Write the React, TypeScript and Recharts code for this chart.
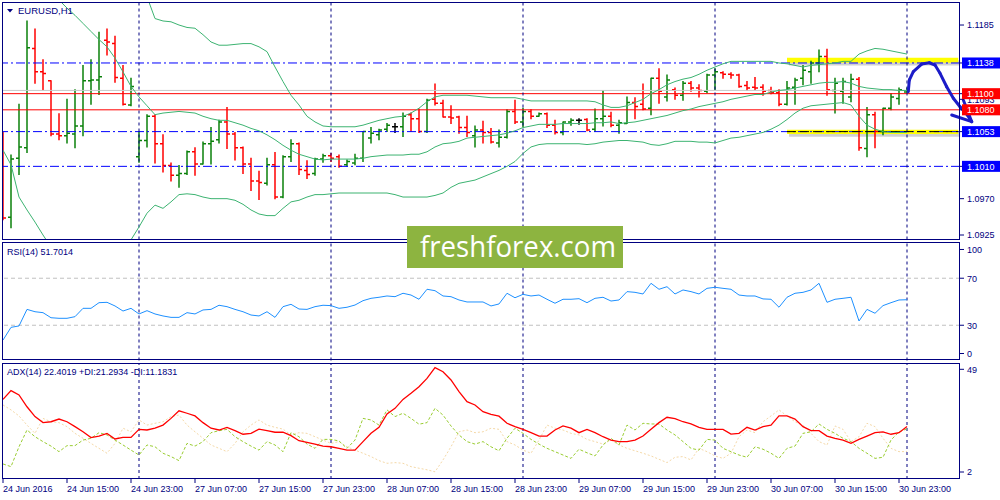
import React from 'react';
import { ComposedChart, Bar, Line, XAxis, YAxis, ReferenceLine, ReferenceArea } from 'recharts';

// EURUSD H1, 24 Jun 2016 07:00 .. 1 Jul 2016 00:00 (one entry per hourly bar)
const OPEN = [
  1.1051, 1.0947, 1.1020, 1.1033, 1.1156, 1.1127, 1.1116, 1.1050, 1.1048, 1.1050,
  1.1060, 1.1116, 1.1117, 1.1166, 1.1162, 1.1119, 1.1086, 1.1022, 1.1042, 1.1072,
  1.1038, 1.1011, 1.0999, 1.1001, 1.1028, 1.1013, 1.1038, 1.1043, 1.1065, 1.1050,
  1.1033, 1.1013, 1.0992, 1.0989, 1.1012, 1.0972, 1.1022, 1.1038, 1.1005, 1.1001,
  1.1019, 1.1023, 1.1022, 1.1012, 1.1014, 1.1020, 1.1045, 1.1049, 1.1056, 1.1059,
  1.1059, 1.1074, 1.1069, 1.1053, 1.1093, 1.1088, 1.1071, 1.1071, 1.1058, 1.1048,
  1.1055, 1.1052, 1.1039, 1.1046, 1.1078, 1.1065, 1.1078, 1.1072, 1.1075, 1.1061,
  1.1052, 1.1065, 1.1067, 1.1068, 1.1056, 1.1069, 1.1072, 1.1061, 1.1063, 1.1089,
  1.1087, 1.1082, 1.1119, 1.1096, 1.1105, 1.1098, 1.1113, 1.1107, 1.1103, 1.1123,
  1.1126, 1.1124, 1.1123, 1.1110, 1.1108, 1.1108, 1.1104, 1.1101, 1.1087, 1.1108,
  1.1119, 1.1127, 1.1138, 1.1146, 1.1104, 1.1103, 1.1096, 1.1118, 1.1032, 1.1074,
  1.1053, 1.1082, 1.1094, 1.1102,
];
const HIGH = [
  1.1052, 1.1024, 1.1087, 1.1190, 1.1180, 1.1142, 1.1116, 1.1075, 1.1093, 1.1105,
  1.1135, 1.1142, 1.1176, 1.1180, 1.1171, 1.1135, 1.1119, 1.1053, 1.1074, 1.1074,
  1.1049, 1.1014, 1.1011, 1.1029, 1.1033, 1.1040, 1.1058, 1.1067, 1.1083, 1.1052,
  1.1034, 1.1020, 1.1004, 1.1020, 1.1027, 1.1023, 1.1043, 1.1039, 1.1017, 1.1020,
  1.1025, 1.1026, 1.1024, 1.1018, 1.1025, 1.1053, 1.1058, 1.1056, 1.1063, 1.1063,
  1.1076, 1.1076, 1.1081, 1.1093, 1.1112, 1.1092, 1.1085, 1.1072, 1.1072, 1.1060,
  1.1066, 1.1057, 1.1055, 1.1080, 1.1092, 1.1082, 1.1080, 1.1076, 1.1076, 1.1067,
  1.1065, 1.1069, 1.1069, 1.1069, 1.1081, 1.1104, 1.1077, 1.1067, 1.1096, 1.1095,
  1.1112, 1.1119, 1.1131, 1.1123, 1.1107, 1.1115, 1.1115, 1.1111, 1.1124, 1.1131,
  1.1127, 1.1126, 1.1124, 1.1115, 1.1120, 1.1111, 1.1108, 1.1105, 1.1115, 1.1119,
  1.1135, 1.1140, 1.1154, 1.1155, 1.1119, 1.1119, 1.1124, 1.1120, 1.1083, 1.1077,
  1.1082, 1.1100, 1.1107, 1.1107,
];
const LOW = [
  1.0944, 1.0934, 1.1000, 1.1027, 1.1113, 1.1105, 1.1048, 1.1043, 1.1039, 1.1033,
  1.1048, 1.1087, 1.1099, 1.1148, 1.1114, 1.1086, 1.1085, 1.1015, 1.1034, 1.1014,
  1.1003, 1.0992, 1.0984, 1.1000, 1.0999, 1.1013, 1.1013, 1.1039, 1.1032, 1.1018,
  1.1001, 1.0980, 1.0969, 1.0987, 1.0970, 1.0971, 1.1016, 1.1000, 1.0995, 1.0999,
  1.1015, 1.1016, 1.1009, 1.1010, 1.1012, 1.1016, 1.1039, 1.1043, 1.1053, 1.1052,
  1.1047, 1.1053, 1.1052, 1.1052, 1.1086, 1.1071, 1.1063, 1.1051, 1.1047, 1.1034,
  1.1039, 1.1039, 1.1034, 1.1045, 1.1063, 1.1059, 1.1069, 1.1072, 1.1058, 1.1050,
  1.1049, 1.1061, 1.1062, 1.1054, 1.1053, 1.1060, 1.1059, 1.1051, 1.1063, 1.1069,
  1.1080, 1.1074, 1.1088, 1.1091, 1.1093, 1.1092, 1.1103, 1.1096, 1.1101, 1.1105,
  1.1119, 1.1119, 1.1108, 1.1104, 1.1105, 1.1098, 1.1100, 1.1085, 1.1086, 1.1087,
  1.1111, 1.1113, 1.1127, 1.1098, 1.1076, 1.1088, 1.1090, 1.1030, 1.1022, 1.1033,
  1.1049, 1.1080, 1.1087, 1.1102,
];
const CLOSE = [
  1.0946, 1.1019, 1.1034, 1.1157, 1.1127, 1.1125, 1.1050, 1.1048, 1.1051, 1.1060,
  1.1116, 1.1117, 1.1121, 1.1164, 1.1120, 1.1087, 1.1109, 1.1042, 1.1072, 1.1038,
  1.1011, 1.0999, 1.1001, 1.1028, 1.1013, 1.1038, 1.1041, 1.1065, 1.1050, 1.1033,
  1.1013, 1.0992, 1.0990, 1.1012, 1.0972, 1.1022, 1.1038, 1.1006, 1.1000, 1.1019,
  1.1023, 1.1020, 1.1010, 1.1016, 1.1020, 1.1053, 1.1051, 1.1055, 1.1061, 1.1059,
  1.1072, 1.1069, 1.1053, 1.1092, 1.1088, 1.1071, 1.1070, 1.1058, 1.1052, 1.1055,
  1.1052, 1.1040, 1.1046, 1.1078, 1.1065, 1.1078, 1.1072, 1.1075, 1.1061, 1.1052,
  1.1065, 1.1067, 1.1067, 1.1055, 1.1069, 1.1072, 1.1061, 1.1064, 1.1089, 1.1084,
  1.1081, 1.1119, 1.1103, 1.1117, 1.1098, 1.1113, 1.1107, 1.1104, 1.1123, 1.1127,
  1.1124, 1.1123, 1.1109, 1.1107, 1.1107, 1.1103, 1.1101, 1.1087, 1.1107, 1.1117,
  1.1129, 1.1138, 1.1146, 1.1105, 1.1113, 1.1115, 1.1118, 1.1033, 1.1074, 1.1053,
  1.1082, 1.1096, 1.1105, 1.1104,
];

// Bollinger Bands (20)
const BB_UPPER = [
  null, null, null, null, null, null, null, null, null, null,
  null, null, null, null, null, null, null, null, 1.1220, 1.1193,
  1.1190, 1.1189, 1.1185, 1.1182, 1.1181, 1.1173, 1.1164, 1.1160, 1.1160, 1.1161,
  1.1162, 1.1162, 1.1158, 1.1152, 1.1133, 1.1115, 1.1098, 1.1086, 1.1072, 1.1065,
  1.1060, 1.1059, 1.1059, 1.1059, 1.1059, 1.1061, 1.1064, 1.1067, 1.1069, 1.1071,
  1.1072, 1.1076, 1.1082, 1.1090, 1.1096, 1.1098, 1.1098, 1.1098, 1.1098, 1.1097,
  1.1096, 1.1095, 1.1095, 1.1095, 1.1095, 1.1093, 1.1091, 1.1091, 1.1091, 1.1091,
  1.1091, 1.1091, 1.1091, 1.1091, 1.1090, 1.1086, 1.1083, 1.1083, 1.1085, 1.1089,
  1.1093, 1.1100, 1.1105, 1.1111, 1.1115, 1.1118, 1.1120, 1.1124, 1.1129, 1.1133,
  1.1137, 1.1140, 1.1140, 1.1140, 1.1140, 1.1140, 1.1140, 1.1138, 1.1137, 1.1135,
  1.1133, 1.1135, 1.1136, 1.1137, 1.1138, 1.1140, 1.1140, 1.1149, 1.1153, 1.1156,
  1.1155, 1.1153, 1.1151, 1.1149,
];
const BB_MIDDLE = [
  1.1286, 1.1276, 1.1265, 1.1255, 1.1245, 1.1235, 1.1225, 1.1216, 1.1206, 1.1197,
  1.1187, 1.1177, 1.1167, 1.1158, 1.1144, 1.1127, 1.1109, 1.1096, 1.1085, 1.1074,
  1.1076, 1.1077, 1.1078, 1.1077, 1.1076, 1.1072, 1.1069, 1.1067, 1.1067, 1.1064,
  1.1061, 1.1057, 1.1054, 1.1049, 1.1043, 1.1036, 1.1030, 1.1025, 1.1022, 1.1019,
  1.1018, 1.1019, 1.1019, 1.1019, 1.1019, 1.1020, 1.1022, 1.1023, 1.1024, 1.1024,
  1.1024, 1.1025, 1.1025, 1.1028, 1.1034, 1.1038, 1.1039, 1.1041, 1.1045, 1.1046,
  1.1047, 1.1048, 1.1049, 1.1051, 1.1054, 1.1058, 1.1060, 1.1062, 1.1062, 1.1062,
  1.1063, 1.1063, 1.1063, 1.1063, 1.1064, 1.1064, 1.1065, 1.1063, 1.1064, 1.1065,
  1.1067, 1.1069, 1.1071, 1.1073, 1.1076, 1.1079, 1.1081, 1.1084, 1.1086, 1.1088,
  1.1090, 1.1093, 1.1095, 1.1097, 1.1099, 1.1099, 1.1102, 1.1104, 1.1105, 1.1107,
  1.1109, 1.1111, 1.1113, 1.1114, 1.1114, 1.1115, 1.1113, 1.1109, 1.1107, 1.1106,
  1.1105, 1.1105, 1.1104, 1.1104,
];
const BB_LOWER = [
  1.1030, 1.1012, 1.0972, 1.0956, 1.0941, 1.0925, 1.0910, 1.0898, 1.0886, 1.0878,
  1.0871, 1.0869, 1.0873, 1.0882, 1.0890, 1.0904, 1.0919, 1.0935, 1.0952, 1.0962,
  1.0958, 1.0966, 1.0975, 1.0976, 1.0975, 1.0972, 1.0970, 1.0970, 1.0970, 1.0968,
  1.0963, 1.0956, 1.0951, 1.0949, 1.0949, 1.0958, 1.0966, 1.0968, 1.0972, 1.0975,
  1.0975, 1.0976, 1.0977, 1.0977, 1.0977, 1.0977, 1.0977, 1.0977, 1.0977, 1.0975,
  1.0972, 1.0972, 1.0972, 1.0972, 1.0974, 1.0977, 1.0984, 1.0989, 1.0991, 1.0993,
  1.0997, 1.1001, 1.1005, 1.1010, 1.1016, 1.1026, 1.1034, 1.1037, 1.1038, 1.1038,
  1.1038, 1.1038, 1.1038, 1.1037, 1.1038, 1.1040, 1.1041, 1.1042, 1.1042, 1.1041,
  1.1040, 1.1037, 1.1036, 1.1038, 1.1041, 1.1041, 1.1041, 1.1040, 1.1040, 1.1039,
  1.1042, 1.1045, 1.1046, 1.1048, 1.1050, 1.1052, 1.1056, 1.1061, 1.1068, 1.1076,
  1.1082, 1.1085, 1.1086, 1.1087, 1.1088, 1.1089, 1.1086, 1.1072, 1.1061, 1.1056,
  1.1053, 1.1052, 1.1052, 1.1052,
];

// RSI(14)
const RSI = [
  17.4, 28.2, 29.4, 43.5, 41.5, 40.7, 36.4, 35.9, 35.9, 37.3,
  44.4, 44.4, 49.2, 49.5, 46.4, 42.1, 44.4, 39.6, 42.4, 39.6,
  37.9, 36.7, 36.7, 40.7, 39.6, 43.0, 43.5, 47.0, 45.8, 43.5,
  41.5, 38.7, 37.9, 41.5, 36.7, 45.8, 47.8, 43.8, 43.5, 45.8,
  47.0, 46.7, 44.4, 45.3, 47.2, 50.9, 52.9, 53.8, 54.9, 54.3,
  57.2, 55.7, 52.1, 60.6, 59.4, 54.9, 54.3, 51.5, 49.8, 49.8,
  49.8, 46.4, 48.1, 57.2, 53.4, 56.3, 54.9, 55.7, 52.1, 48.7,
  52.1, 52.1, 52.6, 49.2, 52.9, 53.8, 50.6, 51.5, 58.6, 58.0,
  56.6, 65.7, 60.6, 62.8, 56.6, 60.0, 58.6, 56.6, 61.4, 62.3,
  61.4, 60.6, 55.7, 54.9, 54.9, 52.4, 52.1, 45.3, 53.8, 57.2,
  58.0, 60.0, 65.7, 49.5, 52.1, 52.9, 53.8, 33.6, 43.5, 40.2,
  46.7, 49.2, 51.5, 51.7,
];

// ADX(14) with +DI / -DI
const ADX = [
  34.5, 38.4, 36.5, 31.2, 26.8, 24.1, 24.5, 25.7, 24.5, 22.3,
  20.0, 17.4, 18.1, 19.3, 16.8, 17.5, 17.5, 21.1, 20.8, 21.6,
  23.0, 26.0, 29.4, 28.3, 27.1, 24.1, 21.6, 20.8, 22.0, 20.5,
  18.9, 19.3, 21.2, 20.5, 19.8, 19.8, 18.3, 16.0, 15.3, 14.5,
  13.6, 13.3, 12.6, 11.8, 11.8, 15.6, 19.3, 22.0, 28.0, 30.5,
  34.5, 37.2, 40.2, 43.9, 48.7, 46.9, 43.2, 38.0, 33.5, 32.0,
  29.0, 27.8, 27.0, 23.8, 22.3, 21.1, 19.6, 18.1, 18.1, 20.8,
  22.6, 21.6, 19.6, 21.1, 19.6, 17.8, 16.3, 15.6, 15.6, 16.3,
  18.1, 21.1, 24.1, 26.5, 25.9, 24.5, 23.5, 22.0, 21.1, 21.1,
  21.1, 19.0, 19.3, 22.0, 20.8, 22.3, 23.0, 27.1, 27.1, 25.7,
  22.3, 20.5, 20.5, 18.1, 17.1, 16.3, 14.8, 16.6, 18.1, 19.6,
  20.0, 18.9, 19.6, 22.4,
];
const PLUS_DI = [
  5.6, 4.4, 13.3, 20.8, 17.8, 15.6, 13.6, 11.1, 13.8, 13.8,
  16.3, 17.1, 19.6, 18.6, 16.3, 14.1, 11.8, 9.6, 14.1, 13.3,
  10.4, 8.9, 7.1, 14.8, 13.6, 15.6, 19.6, 20.5, 21.1, 17.8,
  15.6, 13.6, 11.8, 15.6, 14.1, 11.1, 19.6, 17.8, 14.5, 12.6,
  16.6, 16.6, 15.9, 12.6, 16.3, 26.0, 25.3, 23.0, 29.8, 26.8,
  28.3, 26.0, 23.4, 24.1, 30.5, 27.5, 22.6, 18.6, 15.6, 14.5,
  15.6, 13.3, 11.5, 17.1, 21.6, 19.3, 16.6, 14.5, 12.6, 11.1,
  9.6, 8.1, 12.2, 10.6, 9.2, 14.1, 17.1, 14.1, 23.0, 20.8,
  23.8, 23.5, 23.5, 20.8, 18.6, 15.6, 12.6, 11.8, 16.6, 16.3,
  12.6, 11.1, 9.6, 8.6, 13.3, 12.2, 10.4, 8.1, 12.6, 13.6,
  19.3, 20.0, 23.5, 21.1, 19.3, 17.1, 15.6, 12.6, 10.4, 8.1,
  8.6, 16.3, 20.0, 21.3,
];
const MINUS_DI = [
  32.0, 29.8, 27.1, 23.0, 19.3, 26.0, 24.5, 24.1, 22.3, 19.3,
  17.1, 14.8, 12.6, 10.4, 14.8, 21.6, 20.0, 25.3, 23.0, 23.8,
  24.5, 26.8, 27.5, 23.0, 20.0, 17.1, 14.1, 12.6, 11.1, 14.8,
  20.0, 23.0, 25.3, 23.0, 22.0, 21.2, 18.6, 19.6, 19.3, 17.8,
  16.3, 14.8, 15.6, 13.3, 11.8, 10.4, 8.9, 7.1, 5.9, 6.2,
  5.9, 4.4, 3.7, 3.0, 2.1, 7.4, 13.3, 20.0, 20.8, 19.6,
  20.0, 21.6, 21.1, 15.6, 14.1, 11.8, 10.4, 16.3, 23.0, 21.6,
  20.8, 19.3, 18.6, 16.6, 15.6, 14.5, 16.3, 14.1, 12.6, 11.5,
  10.4, 9.2, 7.7, 6.2, 8.6, 8.9, 7.4, 12.6, 11.1, 9.2,
  8.1, 10.4, 17.8, 20.8, 19.6, 24.5, 27.1, 29.8, 27.1, 24.5,
  23.0, 19.3, 15.6, 14.1, 22.6, 21.1, 15.6, 17.8, 23.8, 22.3,
  17.1, 12.6, 11.1, 11.2,
];

const TIME_TICKS = [0, 8, 16, 24, 32, 40, 48, 56, 64, 72, 80, 88, 96, 104, 112];
const TIME_LABELS = [
  '24 Jun 2016', '24 Jun 15:00', '24 Jun 23:00', '27 Jun 07:00', '27 Jun 15:00',
  '27 Jun 23:00', '28 Jun 07:00', '28 Jun 15:00', '28 Jun 23:00', '29 Jun 07:00',
  '29 Jun 15:00', '29 Jun 23:00', '30 Jun 07:00', '30 Jun 15:00', '30 Jun 23:00',
];
const DAY_STARTS = [17, 41, 65, 89, 113];

const PRICE_TICKS = [1.1185, 1.1093, 1.097, 1.0925];
const BLUE_LEVELS = [1.1138, 1.1053, 1.101];
const RED_LEVELS = [1.11, 1.108];
const BID = 1.1104;

// hand-drawn forecast arrow (bar index, price)
const ARROW = [
  [113.16, 1.11024], [113.29, 1.11169], [113.79, 1.11272], [114.84, 1.11367],
  [115.79, 1.11383], [116.5, 1.11355], [117.13, 1.11252], [117.96, 1.11086],
  [118.79, 1.10943], [119.63, 1.10838], [120.54, 1.10736], [121.09, 1.10653],
];
const ARROW_HEAD = [[118.59, 1.10736], [120.04, 1.10921]];

const NAVY = '#000080';
const BULL = '#0A800A';
const BEAR = '#FF0000';
const BAND = '#3CB371';
const FONT = '"Liberation Sans", Arial, sans-serif';
const X_DOMAIN: [number, number] = [-0.125, 119.625];
const PLOT_RIGHT = 960;

const rows = OPEN.map((o, i) => ({
  i,
  open: o,
  high: HIGH[i],
  low: LOW[i],
  close: CLOSE[i],
  range: [LOW[i], HIGH[i]],
  bbUp: BB_UPPER[i],
  bbMid: BB_MIDDLE[i],
  bbLow: BB_LOWER[i],
  rsi: RSI[i],
  adx: ADX[i],
  pdi: PLUS_DI[i],
  mdi: MINUS_DI[i],
}));

const OhlcBar = (props: any) => {
  const { x, y, width, height, payload } = props;
  if (x == null || y == null || !payload) return null;
  const cx = x + (width || 0) / 2;
  const top = Math.min(y, y + height);
  const span = Math.abs(height);
  const { open, high, low, close } = payload;
  const pos = (v: number) => (high === low ? top : top + ((high - v) / (high - low)) * span);
  const color = close > open ? BULL : close < open ? BEAR : '#000000';
  return (
    <g stroke={color} strokeWidth={1.5}>
      <line x1={cx} x2={cx} y1={top - 0.5} y2={top + span + 0.5} />
      <line x1={cx - 3} x2={cx} y1={pos(open)} y2={pos(open)} />
      <line x1={cx} x2={cx + 3} y1={pos(close)} y2={pos(close)} />
    </g>
  );
};

const priceTick = (props: any) => {
  const { y, payload } = props;
  const v = payload.value;
  const box = BLUE_LEVELS.includes(v) ? '#0000FF' : RED_LEVELS.includes(v) ? '#FF0000' : null;
  return (
    <g>
      <line x1={PLOT_RIGHT} x2={PLOT_RIGHT + 4} y1={y} y2={y} stroke={NAVY} />
      {box && <rect x={PLOT_RIGHT + 2} y={y - 5.5} width={38} height={11} fill={box} />}
      <text x={PLOT_RIGHT + 7} y={y + 3.3} fill={box ? '#FFFFFF' : NAVY} fontSize={9} fontFamily={FONT}>
        {v.toFixed(4)}
      </text>
    </g>
  );
};

const levelTick = (shift: Record<string, number>) => (props: any) => {
  const { y, payload } = props;
  const dy = shift[String(payload.value)] || 0;
  return (
    <g>
      <line x1={PLOT_RIGHT} x2={PLOT_RIGHT + 4} y1={y + dy} y2={y + dy} stroke={NAVY} />
      <text x={PLOT_RIGHT + 7} y={y + dy + 3.3} fill={NAVY} fontSize={9} fontFamily={FONT}>
        {payload.value}
      </text>
    </g>
  );
};

const ADX_PLOT_BOTTOM = 119;

const timeTick = (props: any) => {
  const { x, payload } = props;
  const k = TIME_TICKS.indexOf(payload.value);
  return (
    <g>
      <line x1={x} x2={x} y1={ADX_PLOT_BOTTOM} y2={ADX_PLOT_BOTTOM + 4} stroke={NAVY} />
      <text x={x} y={ADX_PLOT_BOTTOM + 13} fill={NAVY} fontSize={9} fontFamily={FONT}>
        {TIME_LABELS[k]}
      </text>
    </g>
  );
};

const daySeparators = DAY_STARTS.map((d) => (
  <ReferenceLine key={`d${d}`} x={d} stroke={NAVY} strokeDasharray="3 3" />
));

const App: React.FC = () => {
  return (
    <div style={{ position: 'absolute', left: 0, top: 0, width: 1000, height: 500, background: '#FFFFFF' }}>
      {/* price window */}
      <div style={{ position: 'absolute', left: 0, top: 0 }}>
        <ComposedChart width={1000} height={242} data={rows} margin={{ top: 2, right: 0, bottom: 2.5, left: 2 }}>
          <XAxis dataKey="i" type="number" domain={X_DOMAIN} allowDataOverflow hide />
          <YAxis
            orientation="right"
            width={40}
            domain={[1.091943, 1.12135]}
            allowDataOverflow
            ticks={[...PRICE_TICKS, 1.1138, 1.11, 1.108, 1.1053, 1.101]}
            interval={0}
            axisLine={false}
            tickLine={false}
            tick={priceTick}
          />
          <ReferenceArea x1={98.25} x2={119.65} y1={1.1135} y2={1.11415} fill="#000000" fillOpacity={0.18} stroke="none" ifOverflow="visible" />
          <ReferenceArea x1={98} x2={119.4} y1={1.11384} y2={1.11445} fill="#FFFF00" fillOpacity={1} stroke="none" ifOverflow="visible" />
          <ReferenceArea x1={98.25} x2={119.65} y1={1.10465} y2={1.10525} fill="#000000" fillOpacity={0.18} stroke="none" ifOverflow="visible" />
          <ReferenceArea x1={98} x2={119.4} y1={1.105} y2={1.10554} fill="#FFFF00" fillOpacity={1} stroke="none" ifOverflow="visible" />
          <ReferenceLine y={BID} stroke="#C8C8C8" />
          {RED_LEVELS.map((v) => (
            <ReferenceLine key={`r${v}`} y={v} stroke="#FF0000" />
          ))}
          {BLUE_LEVELS.map((v) => (
            <ReferenceLine key={`b${v}`} y={v} stroke="#0000FF" strokeDasharray="9 3 2 3" />
          ))}
          <ReferenceLine
            segment={[{ x: 98, y: 1.1053 }, { x: 119.4, y: 1.1053 }]}
            stroke="#000000"
            strokeDasharray="9 4"
            ifOverflow="visible"
          />
          {daySeparators}
          <Line dataKey="bbUp" stroke={BAND} strokeWidth={1} dot={false} isAnimationActive={false} />
          <Line dataKey="bbMid" stroke={BAND} strokeWidth={1} dot={false} isAnimationActive={false} />
          <Line dataKey="bbLow" stroke={BAND} strokeWidth={1} dot={false} isAnimationActive={false} />
          <Bar dataKey="range" barSize={2} shape={OhlcBar} isAnimationActive={false} />
          {ARROW.slice(1).map((p, k) => (
            <ReferenceLine
              key={`a${k}`}
              segment={[{ x: ARROW[k][0], y: ARROW[k][1] }, { x: p[0], y: p[1] }]}
              stroke="#1C1CC8"
              strokeWidth={3}
              strokeLinecap="round"
              ifOverflow="visible"
            />
          ))}
          {ARROW_HEAD.map((p, k) => (
            <ReferenceLine
              key={`h${k}`}
              segment={[{ x: p[0], y: p[1] }, { x: ARROW[ARROW.length - 1][0], y: ARROW[ARROW.length - 1][1] }]}
              stroke="#1C1CC8"
              strokeWidth={3}
              strokeLinecap="round"
              ifOverflow="visible"
            />
          ))}
        </ComposedChart>
      </div>

      {/* RSI window */}
      <div style={{ position: 'absolute', left: 0, top: 240 }}>
        <ComposedChart width={1000} height={122} data={rows} margin={{ top: 2.5, right: 0, bottom: 1.5, left: 2 }}>
          <XAxis dataKey="i" type="number" domain={X_DOMAIN} allowDataOverflow hide />
          <YAxis
            orientation="right"
            width={40}
            domain={[0, 100.4]}
            allowDataOverflow
            ticks={[100, 70, 30, 0]}
            interval={0}
            axisLine={false}
            tickLine={false}
            tick={levelTick({ '100': 6.5, '0': -7 })}
          />
          <ReferenceLine y={70} stroke="#C0C0C0" strokeDasharray="4 3" />
          <ReferenceLine y={30} stroke="#C0C0C0" strokeDasharray="4 3" />
          {daySeparators}
          <Line dataKey="rsi" stroke="#1E90FF" strokeWidth={1} dot={false} isAnimationActive={false} />
        </ComposedChart>
      </div>

      {/* ADX window */}
      <div style={{ position: 'absolute', left: 0, top: 360 }}>
        <ComposedChart width={1000} height={140} data={rows} margin={{ top: 3, right: 0, bottom: 0, left: 2 }}>
          <XAxis
            dataKey="i"
            type="number"
            domain={X_DOMAIN}
            allowDataOverflow
            ticks={TIME_TICKS}
            interval={0}
            height={21}
            axisLine={false}
            tickLine={false}
            tick={timeTick}
          />
          <YAxis
            orientation="right"
            width={40}
            domain={[-1.13, 50.79]}
            allowDataOverflow
            ticks={[49, 2]}
            interval={0}
            axisLine={false}
            tickLine={false}
            tick={levelTick({ '49': 2.3 })}
          />
          {daySeparators}
          <Line dataKey="mdi" stroke="#F5D9A8" strokeWidth={1} strokeDasharray="2 2" dot={false} isAnimationActive={false} />
          <Line dataKey="pdi" stroke="#9ACD32" strokeWidth={1} strokeDasharray="3 2" dot={false} isAnimationActive={false} />
          <Line dataKey="adx" stroke="#FF0000" strokeWidth={1.3} dot={false} isAnimationActive={false} />
        </ComposedChart>
      </div>

      {/* window frames, captions and watermark */}
      <svg width={1000} height={500} style={{ position: 'absolute', left: 0, top: 0, pointerEvents: 'none' }}>
        <g fill="none" stroke={NAVY} strokeWidth={1}>
          <rect x={2.5} y={2.5} width={957} height={237} />
          <rect x={2.5} y={242.5} width={957} height={117} />
          <rect x={2.5} y={363.5} width={957} height={115} />
        </g>
        <polygon points="7,9 13,9 10,12.5" fill={NAVY} />
        <text x={18} y={14} fill={NAVY} fontSize={9.5} fontFamily={FONT}>EURUSD,H1</text>
        <text x={7} y={255} fill={NAVY} fontSize={9} fontFamily={FONT}>RSI(14) 51.7014</text>
        <text x={7} y={375} fill={NAVY} fontSize={9} fontFamily={FONT}>ADX(14) 22.4019 +DI:21.2934 -DI:11.1831</text>
        <rect x={407} y={226} width={216} height={42} fill="#8DB440" />
        <text
          x={420}
          y={257}
          fill="#FFFFFF"
          fontSize={29}
          fontFamily='"Open Sans", sans-serif'
          textLength={196}
          lengthAdjust="spacingAndGlyphs"
        >
          freshforex.com
        </text>
      </svg>
    </div>
  );
};

export default App;
